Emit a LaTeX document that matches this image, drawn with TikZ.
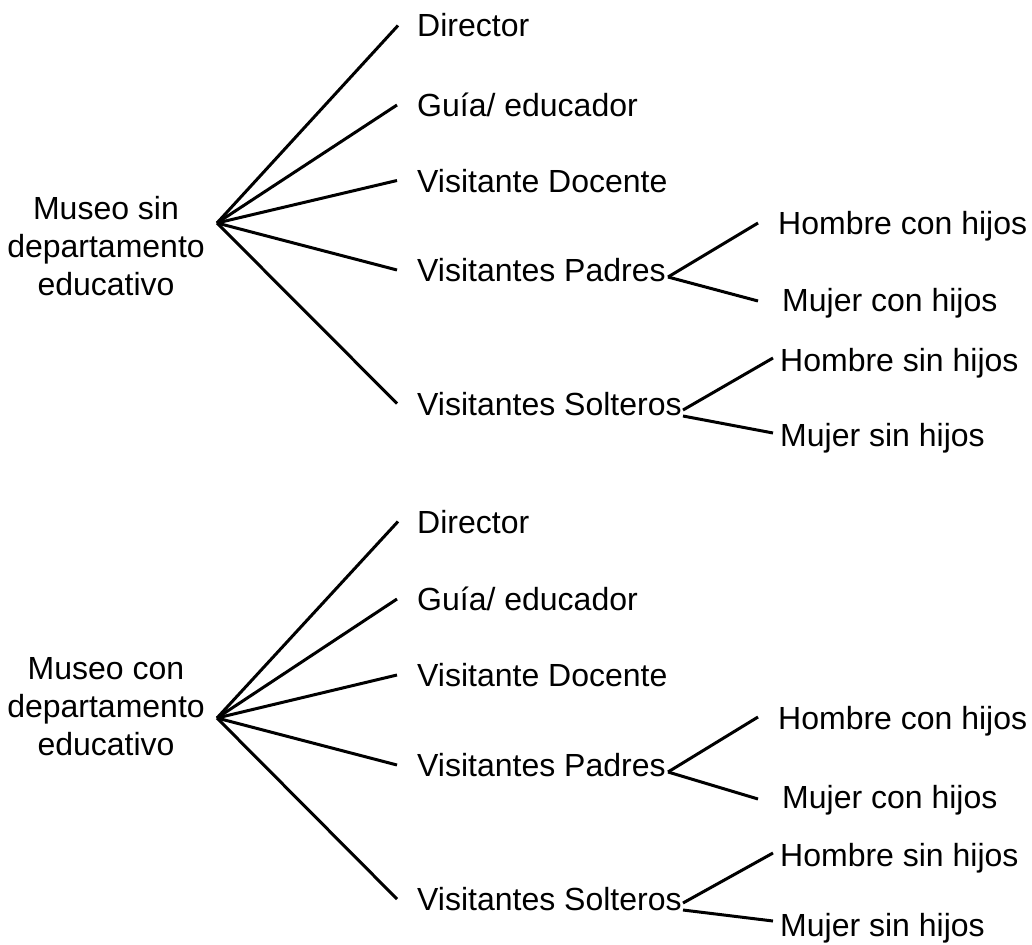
\documentclass[tikz,border=0pt]{standalone}
\usepackage{fontspec}
\setmainfont{Liberation Sans}
\begin{document}
\begin{tikzpicture}[x=1pt,y=-1pt,
  lbl/.style={font=\fontsize{32pt}{38pt}\selectfont, inner sep=0pt, text height=23pt, text depth=0pt, anchor=west},
  rootlbl/.style={font=\fontsize{32pt}{38pt}\selectfont, inner sep=0pt, align=center},
  conn/.style={line width=3pt, black}]
\useasboundingbox (0,0) rectangle (1032,944);
\fill[white] (0,0) rectangle (1032,944);

% ---------- top tree ----------
\node[rootlbl] (r1) at (106,246.5) {Museo sin\\departamento\\educativo};
\coordinate (j1) at (217,223);
\node[lbl] (dir1) at (417,25.5) {Director};
\node[lbl] (gui1) at (417,105) {Guía/ educador};
\node[lbl] (doc1) at (417,180.5) {Visitante Docente};
\node[lbl] (pad1) at (417,270) {Visitantes Padres};
\node[lbl] (sol1) at (417,403.5) {Visitantes Solteros};
\node[lbl] (hc1) at (778,223) {Hombre con hijos};
\node[lbl] (mc1) at (782,300) {Mujer con hijos};
\node[lbl] (hs1) at (780,360) {Hombre sin hijos};
\node[lbl] (ms1) at (780,435) {Mujer sin hijos};
\coordinate (pj1) at (668,277);
\coordinate (sj1a) at (683,410);
\coordinate (sj1b) at (683,416);

\draw[conn] (j1) -- ([xshift=-19pt]dir1.west);
\draw[conn] (j1) -- ([xshift=-20pt]gui1.west);
\draw[conn] (j1) -- ([xshift=-20pt]doc1.west);
\draw[conn] (j1) -- ([xshift=-20pt]pad1.west);
\draw[conn] (j1) -- ([xshift=-20pt]sol1.west);
\draw[conn] (pj1) -- ([xshift=-20pt]hc1.west);
\draw[conn] (pj1) -- ([xshift=-24pt,yshift=-1pt]mc1.west);
\draw[conn] (sj1a) -- ([xshift=-7pt,yshift=2pt]hs1.west);
\draw[conn] (sj1b) -- ([xshift=-7pt,yshift=2pt]ms1.west);

% ---------- bottom tree ----------
\node[rootlbl] (r2) at (106,706.5) {Museo con\\departamento\\educativo};
\coordinate (j2) at (217,718);
\node[lbl] (dir2) at (417,521.5) {Director};
\node[lbl] (gui2) at (417,599) {Guía/ educador};
\node[lbl] (doc2) at (417,675) {Visitante Docente};
\node[lbl] (pad2) at (417,765) {Visitantes Padres};
\node[lbl] (sol2) at (417,899) {Visitantes Solteros};
\node[lbl] (hc2) at (778,718) {Hombre con hijos};
\node[lbl] (mc2) at (782,797) {Mujer con hijos};
\node[lbl] (hs2) at (780,855) {Hombre sin hijos};
\node[lbl] (ms2) at (780,925) {Mujer sin hijos};
\coordinate (pj2) at (668,772);
\coordinate (sj2a) at (683,903);
\coordinate (sj2b) at (683,910);

\draw[conn] (j2) -- ([xshift=-19pt]dir2.west);
\draw[conn] (j2) -- ([xshift=-20pt]gui2.west);
\draw[conn] (j2) -- ([xshift=-20pt]doc2.west);
\draw[conn] (j2) -- ([xshift=-20pt]pad2.west);
\draw[conn] (j2) -- ([xshift=-20pt]sol2.west);
\draw[conn] (pj2) -- ([xshift=-20pt,yshift=1pt]hc2.west);
\draw[conn] (pj2) -- ([xshift=-24pt,yshift=-2pt]mc2.west);
\draw[conn] (sj2a) -- ([xshift=-7pt,yshift=2pt]hs2.west);
\draw[conn] (sj2b) -- ([xshift=-7pt,yshift=4pt]ms2.west);
\end{tikzpicture}
\end{document}
